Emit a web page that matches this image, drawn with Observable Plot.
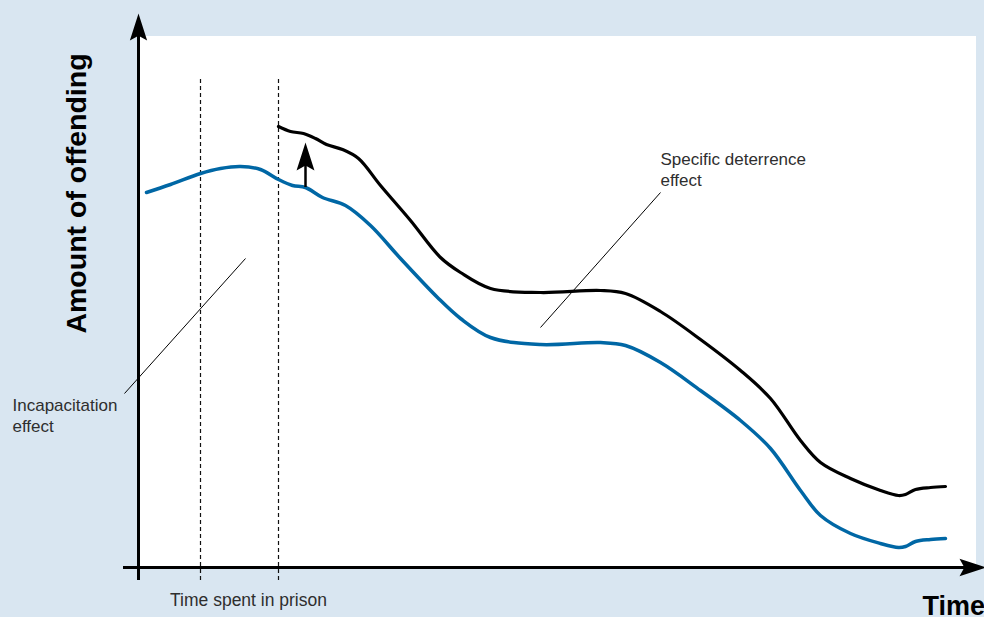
<!DOCTYPE html>
<html>
<head>
<meta charset="utf-8">
<script src="https://cdn.jsdelivr.net/npm/d3@7"></script>
<script src="https://cdn.jsdelivr.net/npm/@observablehq/plot@0.6"></script>
<style>
  html, body { margin: 0; padding: 0; background: #d9e6f1; overflow: hidden; }
  #chart svg { display: block; }
</style>
</head>
<body>
<div id="chart"></div>
<script>
// Time (x) and amount of offending (y), arbitrary units
const baseTime = [8, 32, 62, 82, 102, 122, 140, 154, 167, 184, 207, 232, 262, 299, 322, 352, 402, 462, 487, 522, 562, 602, 632, 662, 682, 712, 742, 760, 767, 777, 792, 807];
const baseOffending = [375, 383, 394, 399, 401, 398, 388, 382, 380, 370, 362, 342, 309, 270, 249, 230, 223, 225, 222, 205, 177, 147, 119, 77, 52, 34, 24, 20, 21, 26, 28, 29];

const deterTime = [140, 152, 165, 177, 188, 204, 220, 242, 272, 302, 322, 352, 402, 462, 487, 522, 562, 602, 632, 662, 682, 712, 742, 760, 767, 777, 792, 807];
const deterOffending = [441, 436, 434, 429, 423, 418, 409, 382, 347, 310, 295, 279, 275, 277, 274, 256, 228, 197, 169, 127, 105, 89, 77, 72, 73, 78, 80, 81];

const prisonBounds = [62, 140];           // start and end of prison term
const panel = [{x1: 2, x2: 838, y1: 0, y2: 531}];
const axisX = [{x1: -15, x2: 838, y: 0}];
const axisY = [{x: 0, y1: -13, y2: 532}];
const arrowTips = [
  {x: 0, y: 554, rotate: 0},
  {x: 848, y: 0, rotate: 90}
];
const effectArrow = [{x: 167, y1: 380, y2: 404}];
const effectTip = [{x: 167, y: 425, rotate: 0}];
const leaders = [
  {x1: 522, y1: 375, x2: 402, y2: 240},
  {x1: 107, y1: 309, x2: -14, y2: 174}
];
const noteSpecific = ["Specific deterrence\neffect"];
const noteIncap = ["Incapacitation\neffect"];
const xLabel = ["Time spent in prison"];
const timeLabel = ["Time"];
const yLabel = ["Amount of offending"];

const base = baseTime.map((t, i) => ({t, v: baseOffending[i]}));
const deter = deterTime.map((t, i) => ({t, v: deterOffending[i]}));

const stealth = {
  draw(ctx, size) {
    const r = Math.sqrt(size / Math.PI);
    ctx.moveTo(0, 0);
    ctx.lineTo(0.32 * r, r);
    ctx.lineTo(0, 0.82 * r);
    ctx.lineTo(-0.32 * r, r);
    ctx.closePath();
  }
};

const noteStyle = {textAnchor: "start", lineAnchor: "top", fontSize: 17, fill: "#2e2e2e"};

const chart = Plot.plot({
  width: 984,
  height: 617,
  marginLeft: 138,
  marginRight: 8,
  marginTop: 36,
  marginBottom: 50,
  x: {domain: [0, 838], axis: null},
  y: {domain: [0, 531], axis: null},
  style: {background: "#d9e6f1", fontFamily: "'Liberation Sans', Arial, Helvetica, sans-serif"},
  marks: [
    Plot.rect(panel, {x1: "x1", x2: "x2", y1: "y1", y2: "y2", fill: "white"}),
    Plot.ruleX(prisonBounds, {y1: -13, y2: 488, stroke: "#111", strokeWidth: 1.2, strokeDasharray: "4,3"}),
    Plot.line(base, {x: "t", y: "v", stroke: "#0067a5", strokeWidth: 3.5, curve: "catmull-rom"}),
    Plot.line(deter, {x: "t", y: "v", stroke: "#000", strokeWidth: 3.2, curve: "catmull-rom"}),
    Plot.ruleY(axisX, {x1: "x1", x2: "x2", y: "y", stroke: "#000", strokeWidth: 3}),
    Plot.ruleX(axisY, {x: "x", y1: "y1", y2: "y2", stroke: "#000", strokeWidth: 3}),
    Plot.dot(arrowTips, {x: "x", y: "y", rotate: "rotate", symbol: stealth, r: 27, fill: "#000", stroke: null}),
    Plot.ruleX(effectArrow, {x: "x", y1: "y1", y2: "y2", stroke: "#000", strokeWidth: 2.5}),
    Plot.dot(effectTip, {x: "x", y: "y", rotate: "rotate", symbol: stealth, r: 28, fill: "#000", stroke: null}),
    Plot.link(leaders, {x1: "x1", y1: "y1", x2: "x2", y2: "y2", stroke: "#000", strokeWidth: 1}),
    Plot.text(noteSpecific, {...noteStyle, x: 522, y: 418, lineHeight: 1.25}),
    Plot.text(noteIncap, {...noteStyle, x: -126, y: 172, lineHeight: 1.25}),
    Plot.text(xLabel, {x: 110, y: -33, textAnchor: "middle", lineAnchor: "middle", fontSize: 17.5, fill: "#2e2e2e"}),
    Plot.text(timeLabel, {x: 784, y: -39, textAnchor: "start", lineAnchor: "middle", fontSize: 27, fontWeight: "bold", fill: "#000"}),
    Plot.text(yLabel, {x: -62, y: 374, rotate: -90, textAnchor: "middle", lineAnchor: "middle", fontSize: 28.5, fontWeight: "bold", fill: "#000"})
  ]
});
document.getElementById("chart").appendChild(chart);
</script>
</body>
</html>
